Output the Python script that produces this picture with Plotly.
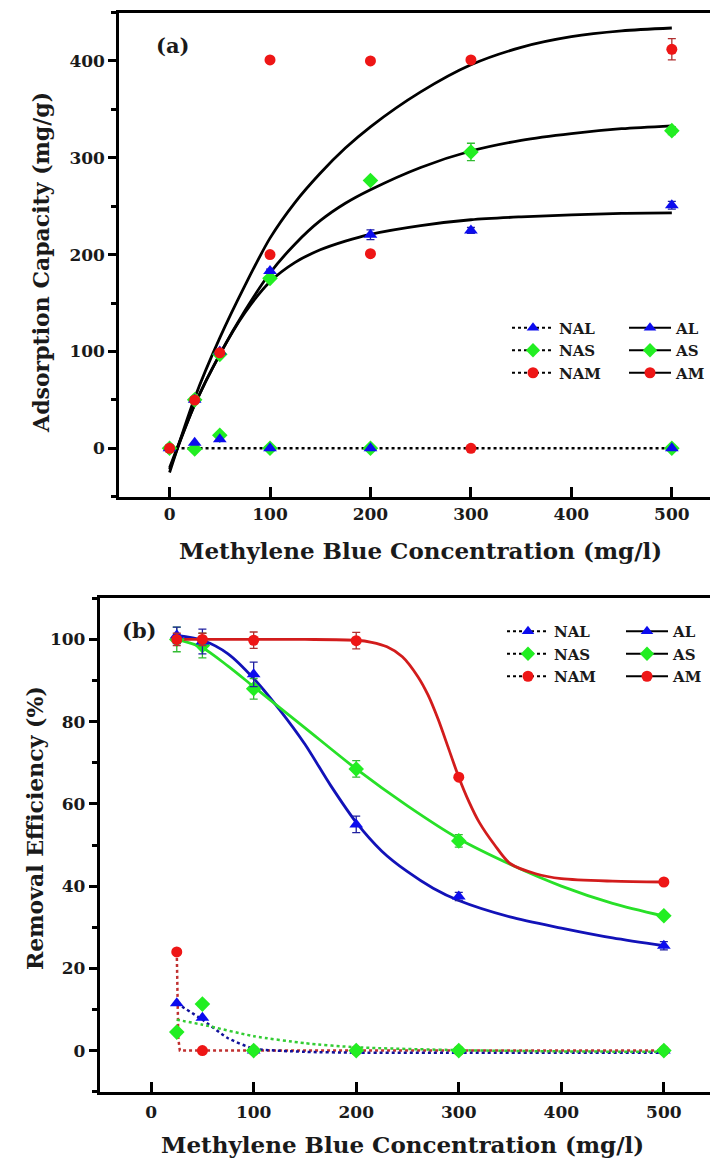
import plotly.graph_objects as go

W, H = 711, 1158

# ---------------- Panel (a) data : adsorption capacity (mg/g) ----------------
conc_a = [0, 25, 50, 100, 200, 300, 500]
al_a = [0, 50, 100, 183, 220.5, 225, 251]
al_a_err = [0, 0, 0, 2, 5, 3, 4]
as_a = [0, 50, 97, 175.5, 276.5, 306, 328]
as_a_err = [0, 0, 0, 2, 3, 9, 4]
am_a_x = [0, 25, 50, 100, 100, 200, 200, 300, 500]
am_a = [0, 49.8, 98.6, 200, 401, 201, 400, 401, 412]
am_a_err = [0, 0, 0, 0, 0, 0, 0, 0, 11]

nal_a_x = [25, 50, 100, 200, 500]
nal_a = [5.8, 9.3, 0, 0, 0]
nas_a_x = [25, 50, 100, 200, 500]
nas_a = [-0.7, 13.4, 0, 0, 0]
nam_a_x = [0, 300]
nam_a = [0, 0]

fit_x_a = [0, 25, 50, 75, 100, 125, 150, 175, 200, 250, 300, 350, 400, 450, 500]
fit_am_a = [-25, 52, 114, 168, 217, 254, 284, 310, 332, 368, 396, 414, 425, 431, 434]
fit_as_a = [-22, 45, 97, 142, 181, 211, 235, 253, 267, 290, 307, 318, 325, 330, 333]
fit_al_a = [-20, 45, 97, 140, 172, 192, 205, 214, 221, 230, 236, 239, 241, 242.5, 243]
fit_n_a_x = [0, 25, 50, 100, 200, 300, 500]
fit_n_a = [0, 0, 0, 0, 0, 0, 0]

# ---------------- Panel (b) data : removal efficiency (%) ----------------
conc_b = [25, 50, 100, 200, 300, 500]
al_b = [101, 99.5, 91.5, 55, 37.5, 25.5]
al_b_err = [2, 3, 3, 2, 1, 1]
as_b = [100, 98.5, 88, 68.5, 51, 32.8]
as_b_err = [3, 3, 2.5, 2, 1.5, 0.5]
am_b = [100, 100, 99.8, 99.7, 66.5, 41]
am_b_err = [1.5, 1.5, 2, 2, 0.5, 0.5]
nal_b = [11.5, 8, 0, 0, 0, 0]
nas_b = [4.5, 11.3, 0, 0, 0, 0]
nam_b = [24, 0, 0, 0, 0, 0]

fit_al_b_x = [25, 50, 75, 100, 125, 150, 175, 200, 225, 250, 275, 300, 350, 400, 450, 500]
fit_al_b = [101, 99.8, 96.5, 90.5, 83, 74.5, 64.5, 55.5, 48.5, 43.5, 39.5, 36.5, 32.5, 29.8, 27.4, 25.5]
fit_as_b_x = [25, 50, 75, 100, 150, 200, 250, 300, 350, 400, 450, 500]
fit_as_b = [100, 98, 93.5, 88.5, 78.5, 68.5, 59.5, 51.5, 45.3, 40, 35.8, 32.7]
fit_am_b_x = [25, 100, 150, 200, 215, 230, 245, 260, 270, 280, 290, 300, 310, 320, 335,
              350, 375, 400, 450, 500]
fit_am_b = [100, 100, 100, 99.8, 99.3, 98.2, 95.8, 91, 86.5, 80.5, 73.5, 66.5, 60.5, 55.5,
            50, 45.5, 43, 41.8, 41.2, 41]
fit_nal_b_x = [25, 50, 75, 100, 150, 200, 300, 500]
fit_nal_b = [11.5, 7.5, 3, 0.5, -0.3, -0.5, -0.5, -0.5]
fit_nas_b_x = [25, 50, 100, 150, 200, 300, 400, 500]
fit_nas_b = [7.5, 6.3, 3.5, 1.8, 0.8, 0.1, -0.2, -0.3]
fit_nam_b_x = [25, 26.5, 28, 100, 200, 300, 500]
fit_nam_b = [24, 3, 0, 0, 0, 0, 0]

x_ticks = [0, 100, 200, 300, 400, 500]
y_ticks_a = [0, 100, 200, 300, 400]
y_ticks_b = [0, 20, 40, 60, 80, 100]

BLUE = '#0c0cee'
GREEN = '#22ee22'
RED = '#ee1616'
BLUE_L = '#1212b8'
GREEN_L = '#28e028'
RED_L = '#d21c1c'
FONT = 'DejaVu Serif'
TXT = '#1a1a1a'

fig = go.Figure()


def px_x(p):
    return p / W


def px_y(p):
    return 1 - p / H


def err(arr, color):
    return dict(type='data', array=arr, visible=True, color=color, thickness=1.3, width=4)


# ---- panel (a) fit lines ----
for fy in [fit_am_a, fit_as_a, fit_al_a]:
    fig.add_trace(go.Scatter(x=fit_x_a, y=fy, mode='lines',
                             line=dict(color='black', width=2.8, shape='spline', smoothing=0.8),
                             showlegend=False, xaxis='x', yaxis='y', hoverinfo='skip'))
fig.add_trace(go.Scatter(x=fit_n_a_x, y=fit_n_a, mode='lines', line=dict(color='black', width=2.5, dash='dot'),
                         showlegend=False, xaxis='x', yaxis='y'))

# ---- panel (a) markers ----
fig.add_trace(go.Scatter(x=nas_a_x, y=nas_a, mode='markers', marker=dict(symbol='diamond', size=12, color=GREEN),
                         showlegend=False, xaxis='x', yaxis='y'))
fig.add_trace(go.Scatter(x=nal_a_x, y=nal_a, mode='markers', marker=dict(symbol='triangle-up', size=12, color=BLUE),
                         showlegend=False, xaxis='x', yaxis='y'))
fig.add_trace(go.Scatter(x=nam_a_x, y=nam_a, mode='markers', marker=dict(symbol='circle', size=11, color=RED),
                         showlegend=False, xaxis='x', yaxis='y'))
fig.add_trace(go.Scatter(x=conc_a, y=as_a, mode='markers', marker=dict(symbol='diamond', size=12, color=GREEN),
                         error_y=err(as_a_err, '#33bb33'), showlegend=False, xaxis='x', yaxis='y'))
fig.add_trace(go.Scatter(x=conc_a, y=al_a, mode='markers', marker=dict(symbol='triangle-up', size=12, color=BLUE),
                         error_y=err(al_a_err, '#2020a0'), showlegend=False, xaxis='x', yaxis='y'))
fig.add_trace(go.Scatter(x=am_a_x, y=am_a, mode='markers', marker=dict(symbol='circle', size=11, color=RED),
                         error_y=err(am_a_err, '#b03030'), showlegend=False, xaxis='x', yaxis='y'))

# ---- panel (b) fit lines ----
fig.add_trace(go.Scatter(x=fit_nam_b_x, y=fit_nam_b, mode='lines', line=dict(color='#c03030', width=2.5, dash='dot'),
                         showlegend=False, xaxis='x2', yaxis='y2'))
fig.add_trace(go.Scatter(x=fit_nal_b_x, y=fit_nal_b, mode='lines',
                         line=dict(color='#10109a', width=2.5, dash='dot', shape='spline', smoothing=0.6),
                         showlegend=False, xaxis='x2', yaxis='y2'))
fig.add_trace(go.Scatter(x=fit_nas_b_x, y=fit_nas_b, mode='lines',
                         line=dict(color='#33cc33', width=2.5, dash='dot', shape='spline', smoothing=0.6),
                         showlegend=False, xaxis='x2', yaxis='y2'))
fig.add_trace(go.Scatter(x=fit_al_b_x, y=fit_al_b, mode='lines',
                         line=dict(color=BLUE_L, width=2.8, shape='spline', smoothing=0.8),
                         showlegend=False, xaxis='x2', yaxis='y2'))
fig.add_trace(go.Scatter(x=fit_as_b_x, y=fit_as_b, mode='lines',
                         line=dict(color=GREEN_L, width=2.8, shape='spline', smoothing=0.8),
                         showlegend=False, xaxis='x2', yaxis='y2'))
fig.add_trace(go.Scatter(x=fit_am_b_x, y=fit_am_b, mode='lines',
                         line=dict(color=RED_L, width=2.8, shape='spline', smoothing=0.8),
                         showlegend=False, xaxis='x2', yaxis='y2'))

# ---- panel (b) markers ----
fig.add_trace(go.Scatter(x=conc_b, y=nam_b, mode='markers', marker=dict(symbol='circle', size=11, color=RED),
                         showlegend=False, xaxis='x2', yaxis='y2'))
fig.add_trace(go.Scatter(x=conc_b, y=nal_b, mode='markers', marker=dict(symbol='triangle-up', size=12, color=BLUE),
                         showlegend=False, xaxis='x2', yaxis='y2'))
fig.add_trace(go.Scatter(x=conc_b, y=nas_b, mode='markers', marker=dict(symbol='diamond', size=12, color=GREEN),
                         showlegend=False, xaxis='x2', yaxis='y2'))
fig.add_trace(go.Scatter(x=conc_b, y=as_b, mode='markers', marker=dict(symbol='diamond', size=12, color=GREEN),
                         error_y=err(as_b_err, '#33bb33'), showlegend=False, xaxis='x2', yaxis='y2'))
fig.add_trace(go.Scatter(x=conc_b, y=al_b, mode='markers', marker=dict(symbol='triangle-up', size=12, color=BLUE),
                         error_y=err(al_b_err, '#2020a0'), showlegend=False, xaxis='x2', yaxis='y2'))
fig.add_trace(go.Scatter(x=conc_b, y=am_b, mode='markers', marker=dict(symbol='circle', size=11, color=RED),
                         error_y=err(am_b_err, '#b03030'), showlegend=False, xaxis='x2', yaxis='y2'))

# ---- legend entries ----
sym = {'L': ('triangle-up', BLUE), 'S': ('diamond', GREEN), 'M': ('circle', RED)}
for leg_n, leg_a, xa, ya in [('legend', 'legend2', 'x', 'y'), ('legend3', 'legend4', 'x2', 'y2')]:
    for k in ['L', 'S', 'M']:
        s, c = sym[k]
        fig.add_trace(go.Scatter(x=[None], y=[None], mode='lines+markers', name='NA' + k,
                                 line=dict(color='black', width=2, dash='dot'),
                                 marker=dict(symbol=s, color=c, size=11),
                                 legend=leg_n, xaxis=xa, yaxis=ya))
    for k in ['L', 'S', 'M']:
        s, c = sym[k]
        fig.add_trace(go.Scatter(x=[None], y=[None], mode='lines+markers', name='A' + k,
                                 line=dict(color='black', width=2),
                                 marker=dict(symbol=s, color=c, size=11),
                                 legend=leg_a, xaxis=xa, yaxis=ya))

tick_font = dict(family=FONT, size=17, color=TXT, weight='bold')
leg_font = dict(family=FONT, size=15, color=TXT, weight='bold')


def xax(domain, rng, anchor, standoff):
    return dict(domain=domain, range=rng, anchor=anchor, tickvals=x_ticks, ticks='inside', ticklen=10,
                tickwidth=3, tickcolor='black', showline=True, linewidth=3, linecolor='black', mirror=True,
                showgrid=False, zeroline=False, tickfont=tick_font, ticklabelstandoff=standoff)


def yax(domain, rng, anchor, tv, mdt):
    return dict(domain=domain, range=rng, anchor=anchor, tickvals=tv, ticks='outside', ticklen=8,
                tickwidth=3, tickcolor='black', showline=True, linewidth=3, linecolor='black',
                showgrid=False, zeroline=False, tickfont=tick_font,
                minor=dict(ticks='outside', ticklen=5, tickwidth=2.5, tickcolor='black', dtick=mdt, showgrid=False))


def leg(xp, yp):
    return dict(x=px_x(xp), y=px_y(yp), xanchor='left', yanchor='top', bgcolor='rgba(0,0,0,0)',
                font=leg_font, tracegroupgap=0, itemwidth=42)


def ann(text, xp, yp, size, angle=0):
    return dict(text=text, x=px_x(xp), y=px_y(yp), xref='paper', yref='paper', showarrow=False,
                xanchor='center', yanchor='middle', textangle=angle,
                font=dict(family=FONT, size=size, color=TXT, weight='bold'))


fig.update_layout(
    width=W, height=H, margin=dict(l=0, r=0, t=0, b=0),
    paper_bgcolor='white', plot_bgcolor='white',
    xaxis=xax([px_x(119.5), 1.0], [-50, 538], 'y', 0),
    yaxis=yax([px_y(496.7), px_y(12.5)], [-50, 450], 'x', y_ticks_a, 50),
    xaxis2=xax([px_x(100), 1.0], [-50, 545], 'y2', 3),
    yaxis2=yax([px_y(1091.7), px_y(598.3)], [-10, 110], 'x2', y_ticks_b, 10),
    legend=leg(507, 311.5),
    legend2=leg(625, 311.5),
    legend3=leg(502, 615),
    legend4=leg(621, 615),
    annotations=[
        ann('(a)', 173, 45, 21),
        ann('(b)', 140, 630, 21),
        ann('Methylene Blue Concentration (mg/l)', 421, 550, 23),
        ann('Methylene Blue Concentration (mg/l)', 403, 1144, 23),
        ann('Adsorption Capacity (mg/g)', 41, 262, 22, -90),
        ann('Removal Efficiency (%)', 35, 828, 22, -90),
    ],
)

fig.write_html('out.html')
